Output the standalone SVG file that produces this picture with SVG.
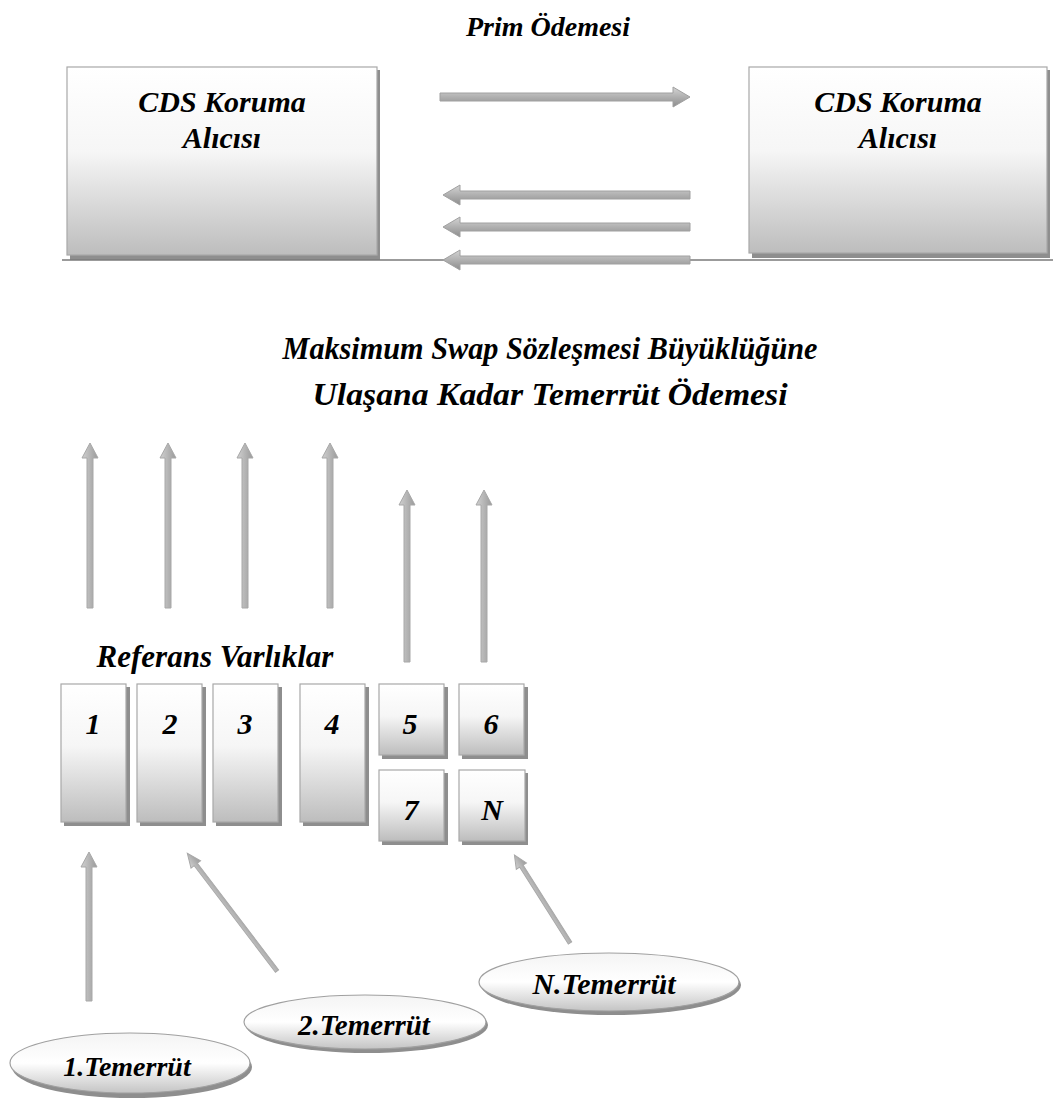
<svg xmlns="http://www.w3.org/2000/svg" width="1053" height="1106" viewBox="0 0 1053 1106">
  <defs>
    <linearGradient id="boxFill" x1="0" y1="0" x2="0" y2="1">
      <stop offset="0" stop-color="#ffffff"/>
      <stop offset="0.45" stop-color="#f6f6f6"/>
      <stop offset="1" stop-color="#bdbdbd"/>
    </linearGradient>
    <linearGradient id="ovalFill" x1="0" y1="0" x2="0" y2="1">
      <stop offset="0" stop-color="#f4f4f4"/>
      <stop offset="0.5" stop-color="#ffffff"/>
      <stop offset="1" stop-color="#c4c4c4"/>
    </linearGradient>
    <linearGradient id="arrowH" x1="0" y1="0" x2="0" y2="1">
      <stop offset="0" stop-color="#d4d4d4"/>
      <stop offset="1" stop-color="#8c8c8c"/>
    </linearGradient>
    <linearGradient id="arrowV" x1="0" y1="0" x2="1" y2="0">
      <stop offset="0" stop-color="#d0d0d0"/>
      <stop offset="1" stop-color="#9a9a9a"/>
    </linearGradient>
  </defs>
  <style>
    .lbl { font-family: "Liberation Serif", "Times New Roman", serif; font-weight: bold; font-style: italic; fill: #000; text-anchor: middle; }
    .box { fill: url(#boxFill); stroke: #a8a8a8; stroke-width: 1.2; }
    .shadow { fill: #8e8e8e; }
    .oval { fill: url(#ovalFill); stroke: #a0a0a0; stroke-width: 1.2; }
    .arrH { fill: url(#arrowH); stroke: #a0a0a0; stroke-width: 1; }
    .arrV { fill: url(#arrowV); stroke: #a8a8a8; stroke-width: 1; }
  </style>

  <rect width="1053" height="1106" fill="#ffffff"/>

  <!-- headings -->
  <text class="lbl" x="548" y="36" font-size="28">Prim Ödemesi</text>
  <text class="lbl" x="550" y="359" font-size="32" textLength="535" lengthAdjust="spacingAndGlyphs">Maksimum Swap Sözleşmesi Büyüklüğüne</text>
  <text class="lbl" x="550" y="405" font-size="32" textLength="475" lengthAdjust="spacingAndGlyphs">Ulaşana Kadar Temerrüt Ödemesi</text>
  <text class="lbl" x="215" y="667" font-size="31">Referans Varlıklar</text>

  <!-- parties -->
  <g id="buyer-left">
    <rect class="shadow" x="70" y="70" width="310" height="190"/>
    <rect class="box" x="67" y="67" width="310" height="188"/>
    <text class="lbl" x="222" y="112" font-size="30">CDS Koruma</text>
    <text class="lbl" x="222" y="148" font-size="30">Alıcısı</text>
  </g>
  <g id="buyer-right">
    <rect class="shadow" x="752" y="70" width="298" height="188"/>
    <rect class="box" x="749" y="67" width="298" height="186"/>
    <text class="lbl" x="898" y="112" font-size="30">CDS Koruma</text>
    <text class="lbl" x="898" y="148" font-size="30">Alıcısı</text>
  </g>

  <!-- reference entities -->
  <g id="ref-1">
    <rect class="shadow" x="64" y="687" width="66" height="139"/>
    <rect class="box" x="61" y="684" width="65" height="138"/>
    <text class="lbl" x="93" y="734" font-size="30">1</text>
  </g>
  <g id="ref-2">
    <rect class="shadow" x="140" y="687" width="66" height="139"/>
    <rect class="box" x="137" y="684" width="65" height="138"/>
    <text class="lbl" x="170" y="734" font-size="30">2</text>
  </g>
  <g id="ref-3">
    <rect class="shadow" x="216" y="687" width="66" height="139"/>
    <rect class="box" x="213" y="684" width="65" height="138"/>
    <text class="lbl" x="245" y="734" font-size="30">3</text>
  </g>
  <g id="ref-4">
    <rect class="shadow" x="303" y="687" width="66" height="139"/>
    <rect class="box" x="300" y="684" width="65" height="138"/>
    <text class="lbl" x="332" y="734" font-size="30">4</text>
  </g>
  <g id="ref-5">
    <rect class="shadow" x="382" y="687" width="66" height="72"/>
    <rect class="box" x="379" y="684" width="65" height="71"/>
    <text class="lbl" x="410" y="734" font-size="30">5</text>
  </g>
  <g id="ref-6">
    <rect class="shadow" x="462" y="687" width="66" height="72"/>
    <rect class="box" x="459" y="684" width="65" height="71"/>
    <text class="lbl" x="491" y="734" font-size="30">6</text>
  </g>
  <g id="ref-7">
    <rect class="shadow" x="382" y="773" width="66" height="72"/>
    <rect class="box" x="379" y="770" width="65" height="71"/>
    <text class="lbl" x="411" y="820" font-size="30">7</text>
  </g>
  <g id="ref-n">
    <rect class="shadow" x="462" y="773" width="66" height="72"/>
    <rect class="box" x="459" y="770" width="66" height="71"/>
    <text class="lbl" x="492" y="820" font-size="30">N</text>
  </g>

  <!-- default events -->
  <g id="default-1">
    <ellipse class="shadow" cx="132" cy="1067" rx="120" ry="31"/>
    <ellipse class="oval" cx="130" cy="1063" rx="120" ry="30"/>
    <text class="lbl" x="127" y="1076" font-size="28">1.Temerrüt</text>
  </g>
  <g id="default-2">
    <ellipse class="shadow" cx="367" cy="1025" rx="121" ry="28"/>
    <ellipse class="oval" cx="365" cy="1022" rx="121" ry="27"/>
    <text class="lbl" x="364" y="1035" font-size="29">2.Temerrüt</text>
  </g>
  <g id="default-n">
    <ellipse class="shadow" cx="611" cy="985" rx="130" ry="30"/>
    <ellipse class="oval" cx="609" cy="982" rx="130" ry="29"/>
    <text class="lbl" x="604" y="994" font-size="30">N.Temerrüt</text>
  </g>

  <!-- connectors -->
  <g id="connectors">
    <line x1="62" y1="260" x2="1053" y2="260" stroke="#7a7a7a" stroke-width="1.5"/>

    <!-- premium leg -->
    <polygon class="arrH" points="440,93 673,93 673,87 690,97 673,107 673,101 440,101"/>
    <!-- protection legs -->
    <polygon class="arrH" points="690,191 460,191 460,185 443,195 460,205 460,199 690,199"/>
    <polygon class="arrH" points="690,223 460,223 460,217 443,227 460,237 460,231 690,231"/>
    <polygon class="arrH" points="690,256 460,256 460,250 443,260 460,270 460,264 690,264"/>

    <!-- payouts above reference entities -->
    <polygon class="arrV" points="87,608 87,458 82,458 90,443 98,458 93,458 93,608"/>
    <polygon class="arrV" points="165,608 165,458 160,458 168,443 176,458 171,458 171,608"/>
    <polygon class="arrV" points="242,608 242,458 237,458 245,443 253,458 248,458 248,608"/>
    <polygon class="arrV" points="327,608 327,458 322,458 330,443 338,458 333,458 333,608"/>
    <polygon class="arrV" points="404,662 404,505 399,505 407,490 415,505 410,505 410,662"/>
    <polygon class="arrV" points="481,662 481,505 476,505 484,490 492,505 487,505 487,662"/>

    <!-- default triggers -->
    <polygon class="arrV" points="86,1001 86,867 81,867 89,852 97,867 92,867 92,1001"/>
    <g transform="translate(277,971) rotate(-37.3)">
      <polygon class="arrV" points="-2,0 -2,-134 -6,-134 0,-148 6,-134 2,-134 2,0"/>
    </g>
    <g transform="translate(570,943) rotate(-32.3)">
      <polygon class="arrV" points="-2,0 -2,-91 -6,-91 0,-104 6,-91 2,-91 2,0"/>
    </g>
  </g>
</svg>
